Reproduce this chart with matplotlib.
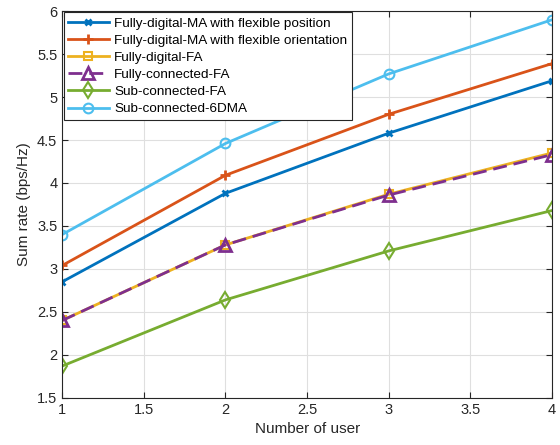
#!/usr/bin/env python3
import numpy as np
import matplotlib
matplotlib.use('Agg')
import matplotlib.pyplot as plt

plt.rcParams['font.family'] = ['Liberation Sans', 'DejaVu Sans']

users = [1, 2, 3, 4]
fd_position = [2.85, 3.88, 4.58, 5.19]
fd_orientation = [3.04, 4.09, 4.80, 5.39]
fd_fa = [2.40, 3.28, 3.87, 4.35]
fc_fa = [2.40, 3.28, 3.86, 4.33]
sc_fa = [1.87, 2.64, 3.21, 3.68]
sc_6dma = [3.40, 4.46, 5.27, 5.90]

labels = ['Fully-digital-MA with flexible position',
          'Fully-digital-MA with flexible orientation',
          'Fully-digital-FA',
          'Fully-connected-FA',
          'Sub-connected-FA',
          'Sub-connected-6DMA']

fig = plt.figure(figsize=(5.6, 4.45), dpi=100)
ax = fig.add_axes([0.111, 0.106, 0.875, 0.869])

lw = 2
ax.plot(users, fd_position, c='#0072BD', lw=lw, marker='x', ms=5, mew=2, label=labels[0])
ax.plot(users, fd_orientation, c='#D95319', lw=lw, marker='+', ms=7, mew=2, label=labels[1])
ax.plot(users, fd_fa, c='#EDB120', lw=lw, marker='s', ms=6, mfc='none', mew=1.5, label=labels[2])
ax.plot(users, fc_fa, c='#7E2F8E', lw=lw, ls=(0, (5, 2.5)), marker='^', ms=9, mfc='none', mew=2, label=labels[3])
ax.plot(users, sc_fa, c='#77AC30', lw=lw, marker='d', ms=8, mfc='none', mew=1.5, label=labels[4])
ax.plot(users, sc_6dma, c='#4DBEEE', lw=lw, marker='o', ms=7, mfc='none', mew=1.5, label=labels[5])

ax.set_xlim(1, 4)
ax.set_ylim(1.5, 6)
ax.set_xticks(np.arange(1, 4.01, 0.5))
ax.set_xticklabels(['1', '1.5', '2', '2.5', '3', '3.5', '4'])
ax.set_yticks(np.arange(1.5, 6.01, 0.5))
ax.set_yticklabels(['1.5', '2', '2.5', '3', '3.5', '4', '4.5', '5', '5.5', '6'])
ax.tick_params(direction='in', top=True, right=True, labelsize=10.5, colors='#262626', length=4)
ax.grid(True, color='#dfdfdf', lw=0.8)
for s in ax.spines.values():
    s.set_color('#262626')
ax.set_xlabel('Number of user', fontsize=11, color='#262626')
ax.set_ylabel('Sum rate (bps/Hz)', fontsize=11, color='#262626')

leg = ax.legend(loc='upper left', fontsize=9.7, fancybox=False, edgecolor='#262626',
                borderaxespad=0.1, handlelength=3, labelspacing=0.35, borderpad=0.35,
                handletextpad=0.4, framealpha=1)
leg.get_frame().set_linewidth(0.8)

plt.savefig('out.png', dpi=100)
